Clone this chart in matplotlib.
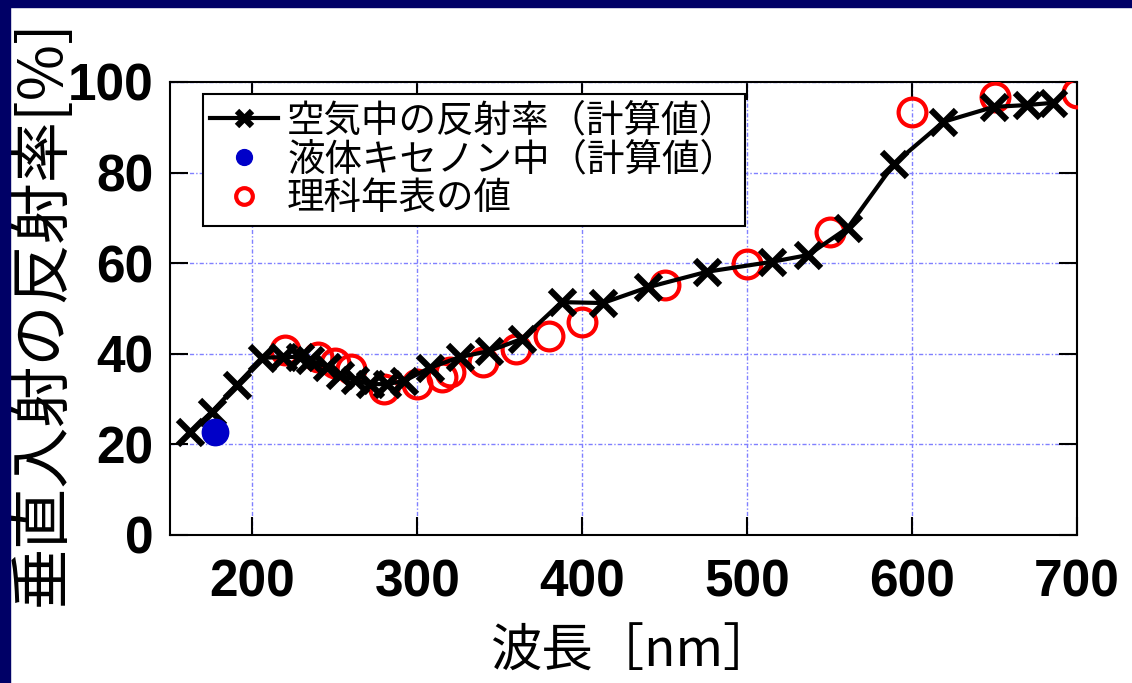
import matplotlib
matplotlib.use('Agg')
import matplotlib.pyplot as plt
from matplotlib.patches import Rectangle

# 空気中の反射率（計算値）
wl_air = [162, 175.5, 190.5, 206, 218.5, 229, 235, 245, 253, 262, 271, 281.5, 292,
          307.5, 326, 343.5, 363.5, 387.5, 412.5, 440, 475.5, 515, 537, 561, 589,
          619, 649.5, 669.5, 685.5]
r_air = [22.7, 27.2, 33.1, 39.1, 39.3, 39.3, 38.6, 37.1, 35.3, 34.2, 33.3, 33.3, 34.0,
         36.9, 39.3, 40.6, 43.3, 51.4, 51.2, 54.7, 58.1, 60.3, 61.8, 67.8, 81.9,
         91.2, 94.5, 94.9, 95.4]

# 液体キセノン中（計算値）
wl_xe = [177.5]
r_xe = [22.7]

# 理科年表の値
wl_ref = [220, 240, 250, 260, 280, 300, 315, 320, 340, 360, 380, 400, 450, 500, 550, 600, 650, 700]
r_ref = [40.8, 39.3, 38.0, 36.6, 32.2, 33.3, 34.9, 36.0, 38.2, 41.1, 43.9, 47.0, 55.2,
         59.8, 66.9, 93.4, 96.7, 97.6]

labels = ['空気中の反射率（計算値）', '液体キセノン中（計算値）', '理科年表の値']
xticks = [200, 300, 400, 500, 600, 700]
yticks = [0, 20, 40, 60, 80, 100]

cjk = ['Noto Sans CJK JP', 'DejaVu Sans']
num = ['Liberation Sans Narrow', 'Liberation Sans', 'DejaVu Sans']

fig = plt.figure(figsize=(11.32, 6.83), dpi=100)
ax = fig.add_axes([0.1502, 0.2167, 0.8012, 0.6633])

# data, red circles behind the black line, blue dot on top
h_ref, = ax.plot(wl_ref, r_ref, 'o', ms=20, mfc='none', mec='#ff0000', mew=3, zorder=3)
h_air, = ax.plot(wl_air, r_air, '-x', color='black', lw=3, ms=18, mew=4.5, zorder=4)
h_xe, = ax.plot(wl_xe, r_xe, 'o', ms=19, color='#0000c8', mec='#0000c8', zorder=5)

ax.set_xlim(150, 700)
ax.set_ylim(0, 100)
ax.set_xticks(xticks)
ax.set_yticks(yticks)
ax.grid(True, color='#8080ff', lw=1, linestyle=(0, (3, 1.5, 1, 1.5)))
ax.set_axisbelow(True)

ax.tick_params(direction='in', length=13, width=1.5, top=True, right=True)
ax.tick_params(axis='x', pad=17)
ax.tick_params(axis='y', pad=12)
for lab in ax.get_xticklabels() + ax.get_yticklabels():
    lab.set_family(num)
    lab.set_fontweight('bold')
    lab.set_fontsize(37)
for s in ax.spines.values():
    s.set_linewidth(1.5)

ax.set_xlabel('波長［nm］', family=cjk, fontsize=37)
ax.xaxis.set_label_coords(0.51, -0.2)
ax.set_ylabel('垂直入射の反射率[%]', family=cjk, fontsize=44)
ax.yaxis.set_label_coords(-0.106, 0.49)

leg = ax.legend([h_air, h_xe, h_ref], labels, loc='upper left',
                bbox_to_anchor=(0.036, 0.9735), borderaxespad=0, markerscale=0.6,
                prop={'family': cjk, 'size': 27}, fancybox=False, framealpha=1,
                edgecolor='black', handlelength=1.8, handletextpad=0.25,
                labelspacing=0.0, borderpad=0.2)
leg.get_frame().set_linewidth(1.5)
leg.set_zorder(10)

# navy slide border
fig.patches.append(Rectangle((0, 0), 10 / 1132, 1, transform=fig.transFigure,
                             color='#000066', zorder=20))
fig.patches.append(Rectangle((0, 1 - 7 / 683), 1, 7 / 683, transform=fig.transFigure,
                             color='#000066', zorder=20))

fig.savefig('out.png', dpi=100)
